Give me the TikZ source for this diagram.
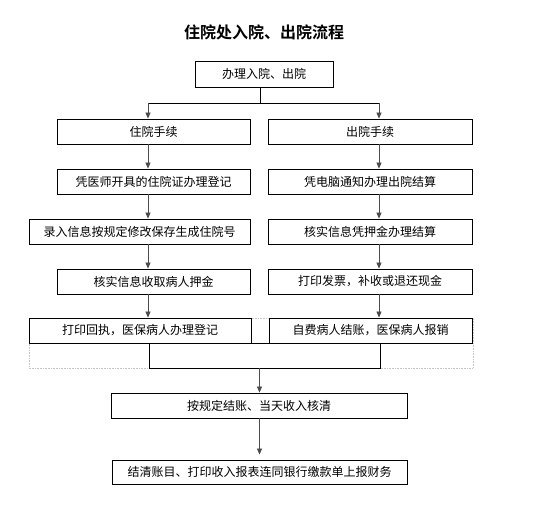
\documentclass[tikz,border=0pt]{standalone}
\usepackage{fontspec}
\newfontfamily\cjk{Noto Sans CJK SC}[BoldFont={Noto Sans CJK SC Bold}]
\usetikzlibrary{arrows.meta}
\tikzset{
	stepbox/.style={draw, line width=0.8pt, minimum height=25pt, inner sep=0pt,
		font=\cjk\fontsize{12pt}{14pt}\selectfont},
	flow/.style={-{Triangle[width=5pt,length=6pt]}, line width=0.7pt, draw=black!70},
}

\begin{document}
\begin{tikzpicture}[x=1pt,y=-1pt]
	\useasboundingbox (0,0) rectangle (544,510);
	%---------------- TITLE ----------------
	\node[font=\cjk\bfseries\fontsize{16pt}{18pt}\selectfont] (title) at (264,32) {住院处入院、出院流程};
	
	% table frame behind the last row
	\draw[gray!45, densely dotted, line width=0.6pt] (29,318) rectangle (473,368);
	
	% start box
	\node[stepbox, minimum width=138pt, minimum height=26pt] (start) at (264,74) {办理入院、出院};
	
	%---------------- LEFT: ADMISSION ----------------
	\foreach \N/\X/\Y/\W/\T in {l1/153.5/131.5/193/住院手续,
		l2/153.5/181.5/193/凭医师开具的住院证办理登记,
		l3/139.5/231.5/221/录入信息按规定修改保存生成住院号,
		l4/153.5/281.5/193/核实信息收取病人押金,
		l5/140/330.5/222/打印回执，医保病人办理登记} {
		\node[stepbox, minimum width=\W pt] (\N) at (\X,\Y) {\T};
	}
	
	%---------------- RIGHT: DISCHARGE ----------------
	\foreach \N/\X/\Y/\W/\T in {r1/370/131.5/204/出院手续,
		r2/370/181.5/204/凭电脑通知办理出院结算,
		r3/370/231.5/204/核实信息凭押金办理结算,
		r4/370/281.5/204/打印发票，补收或退还现金,
		r5/370.5/330.5/203/自费病人结账，医保病人报销} {
		\node[stepbox, minimum width=\W pt] (\N) at (\X,\Y) {\T};
	}
	
	%---------------- BOTTOM ----------------
	\node[stepbox, minimum width=231pt] (merge) at (264.5,355.5) {};
	\node[stepbox, minimum width=296pt] (f1) at (259,405.5) {按规定结账、当天收入核清};
	\node[stepbox, minimum width=295pt, minimum height=24pt] (f2) at (259.5,472) {结清账目、打印收入报表连同银行缴款单上报财务};
	
	% columns of the arrows
	\coordinate (lcol) at (148,0);
	\coordinate (rcol) at (379,0);
	\coordinate (mid) at (259.5,0);
	\coordinate (fork) at (260,103);
	
	% fork from the start box
	\draw[line width=0.8pt] (start.south -| fork) -- (fork);
	\draw[line width=0.8pt] (fork -| lcol) -- (fork -| rcol);
	\draw[flow] (fork -| lcol) -- (l1.north -| lcol);
	\draw[flow] (fork -| rcol) -- (r1.north -| rcol);
	
	% steps down each column
	\foreach \A/\B in {l1/l2,l2/l3,l3/l4,l4/l5} {
		\draw[flow] (\A.south -| lcol) -- (\B.north -| lcol);
	}
	\foreach \A/\B in {r1/r2,r2/r3,r3/r4,r4/r5} {
		\draw[flow] (\A.south -| rcol) -- (\B.north -| rcol);
	}
	
	% joined path to the end
	\draw[flow] (merge.south -| mid) -- (f1.north -| mid);
	\draw[flow, shorten >=5pt] (f1.south -| mid) -- (f2.north -| mid);
\end{tikzpicture}
\end{document}
